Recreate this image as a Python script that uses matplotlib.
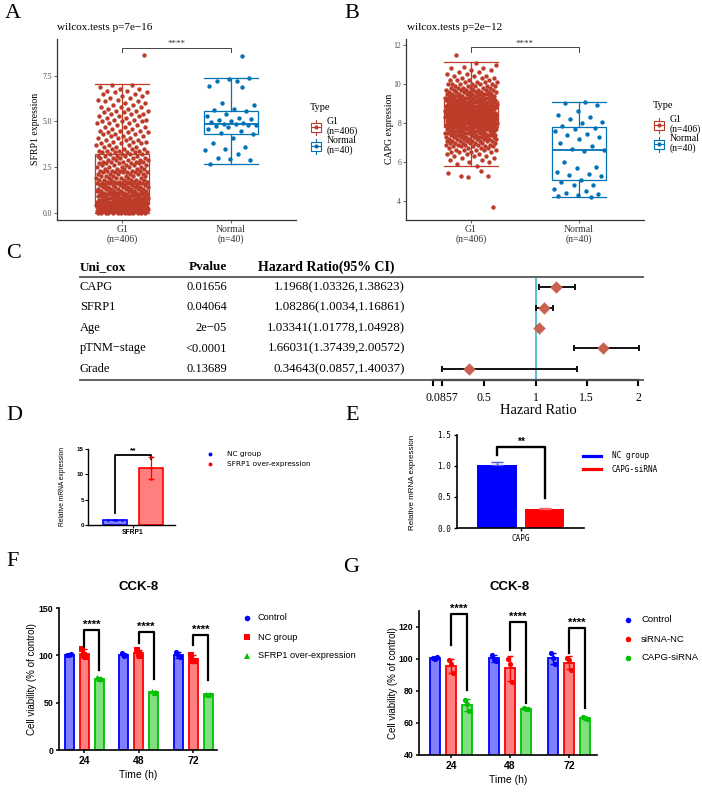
import numpy as np
import matplotlib
matplotlib.use("Agg")
import matplotlib.pyplot as plt
from matplotlib.patches import Rectangle

W, H = 702, 796
SERIF = ["Liberation Serif", "DejaVu Serif"]
SANS = ["Liberation Sans", "DejaVu Sans"]

# ---------------- A / B : expression boxplots ----------------
type_names = ["G1\n(n=406)", "Normal\n(n=40)"]
type_colors = ["#BC3C29", "#0072B5"]

# SFRP1, G1 group: number of samples read at each 0.1 level
sfrp1_g1_levels = np.round(np.arange(0.0, 7.05, 0.1), 1)
sfrp1_g1_counts = [
    14, 20, 22, 22, 20,                                  # 0.0-0.4
    14, 13, 12, 11, 10, 10, 9, 9, 8, 8, 8,               # 0.5-1.5
    7, 7, 7, 6, 6, 6, 6, 6, 5, 5, 5, 5, 5, 5, 5, 5, 4,   # 1.6-3.2
    5, 4, 4, 3, 3, 3, 3, 3,                              # 3.3-4.0
    3, 3, 3, 3, 3, 2, 3, 2, 3, 3,                        # 4.1-5.0
    3, 2, 3, 3, 2, 3, 2, 3, 2, 2,                        # 5.1-6.0
    2, 2, 2, 2, 2, 2, 2, 2, 1, 2]                        # 6.1-7.0
sfrp1_g1_outliers = [8.65]
sfrp1_normal = [7.25, 7.2, 7.4, 7.35, 6.95, 6.9, 6.0, 5.9, 5.7, 5.65,
                5.55, 5.4, 5.3, 5.2, 5.1, 5.15, 5.0, 4.95, 4.9, 4.85,
                4.8, 4.85, 4.75, 4.8, 4.7, 4.6, 4.5, 4.35, 4.3, 4.1,
                3.8, 3.6, 3.5, 3.45, 3.2, 3.0, 2.9, 2.95, 2.65, 8.6]
sfrp1_med = [1.55, 4.85]
sfrp1_q1 = [0.45, 4.3]
sfrp1_q3 = [3.2, 5.6]
sfrp1_lo = [0.0, 2.65]
sfrp1_hi = [7.05, 7.4]

# CAPG, G1 group
capg_g1_levels = np.round(np.arange(5.8, 11.15, 0.1), 1)
capg_g1_counts = [
    1, 1, 2, 2, 2,
    3, 3, 4, 5, 4,
    5, 5, 7, 8, 8,
    9, 10, 10, 10, 11,
    12, 12, 13, 14, 14,
    15, 15, 15, 15, 14,
    14, 13, 12, 12, 11,
    11, 10, 9, 8, 8,
    6, 5, 6, 4, 4,
    3, 3, 2, 2, 2,
    2, 1, 1, 1]
capg_g1_outliers = [11.5, 5.3, 5.25, 5.45, 5.55, 5.3, 3.7]
capg_normal = [9.1, 9.05, 8.95, 8.6, 8.4, 8.3, 8.2, 8.05, 8.0, 7.85,
               7.75, 7.7, 7.6, 7.45, 7.4, 7.3, 7.2, 7.0, 6.8, 6.65,
               6.6, 6.55, 6.0, 5.75, 5.7, 5.5, 5.4, 5.35, 5.3, 5.1,
               5.0, 4.85, 4.8, 4.6, 4.5, 4.4, 4.35, 4.3, 4.25, 4.2]
capg_med = [8.46, 6.6]
capg_q1 = [7.8, 5.07]
capg_q3 = [9.13, 7.8]
capg_lo = [5.8, 4.2]
capg_hi = [11.13, 9.1]

# ---------------- C : univariate cox ----------------
cox_vars = ["CAPG", "SFRP1", "Age", "pTNM\u2212stage", "Grade"]
cox_p = ["0.01656", "0.04064", "2e\u221205", "<0.0001", "0.13689"]
cox_hr = [1.1968, 1.08286, 1.03341, 1.66031, 0.34643]
cox_lo = [1.03326, 1.0034, 1.01778, 1.37439, 0.0857]
cox_hi = [1.38623, 1.16861, 1.04928, 2.00572, 1.40037]

# ---------------- D / E : qPCR ----------------
d_groups = ["NC group", "SFRP1 over-expression"]
d_reps = [[1.0, 1.05, 0.95], [13.4, 11.2, 9.1]]
e_groups = ["NC group", "CAPG-siRNA"]
e_mean = [1.02, 0.30]
e_err = [0.05, 0.03]

# ---------------- F / G : CCK-8 ----------------
times = ["24", "48", "72"]
f_groups = ["Control", "NC group", "SFRP1 over-expression"]
f_control = [[100.5, 100, 101], [102, 99.5, 100], [104, 100, 98]]
f_nc = [[107, 100, 98], [106, 101, 99], [100.5, 94, 94]]
f_sfrp1 = [[77, 75, 74.5], [62, 60.5, 61], [59.5, 58.5, 59]]
f_sig_top = [127, 125, 122]
f_sig_left = [109, 113, 111]
f_sig_right = [85, 75, 74]

g_groups = ["Control", "siRNA-NC", "CAPG-siRNA"]
g_control = [[100.5, 100, 101], [102.5, 100, 98.5], [103.5, 100.5, 97]]
g_sinc = [[99.5, 97, 91], [100, 97, 85.5], [100.5, 99.5, 93]]
g_capg = [[74.5, 72, 67.5], [69.5, 69, 68.5], [63.5, 63, 62.5]]
g_sig_top = [128, 123, 119.5]
g_sig_left = [109, 105.5, 104]
g_sig_right = [80.5, 72.5, 69.5]

bar_fill = ["#8080ff", "#ff8080", "#80e080"]
bar_edge = ["#0000ff", "#ff0000", "#00c000"]

fig = plt.figure(figsize=(W / 100, H / 100), dpi=100)


def px_rect(l, t, r, b):
    return [l / W, 1 - b / H, (r - l) / W, (b - t) / H]


ov = fig.add_axes([0, 0, 1, 1], zorder=10)
ov.set_xlim(0, W)
ov.set_ylim(H, 0)
ov.axis("off")


def expr_panel(rect, g1, normal, med, q1, q3, lo, hi, ylim, yticks, sig):
    ax = fig.add_axes(rect)
    ax.patch.set_visible(False)
    stats = [dict(med=med[i], q1=q1[i], q3=q3[i], whislo=lo[i], whishi=hi[i], fliers=[])
             for i in range(2)]
    bp = ax.bxp(stats, positions=[1, 2], widths=0.5, capwidths=0.5,
                patch_artist=True, showfliers=False)
    for i, c in enumerate(type_colors):
        bp["boxes"][i].set(facecolor="white", edgecolor=c, linewidth=0.9)
        bp["medians"][i].set(color=c, linewidth=1.3)
        for art in bp["whiskers"][2 * i:2 * i + 2] + bp["caps"][2 * i:2 * i + 2]:
            art.set(color=c, linewidth=0.9)
    for i, vals in enumerate([g1, normal]):
        vals = np.asarray(vals, float)
        jit = ((np.arange(len(vals)) + 1) * 0.6180339887) % 1.0 - 0.5
        ax.scatter(i + 1 + jit * 0.48, vals, s=10, color=type_colors[i],
                   linewidths=0, zorder=3)
    ax.plot([1, 1, 2, 2], [sig[0], sig[1], sig[1], sig[0]], color="#444444",
            lw=0.7, clip_on=False)
    ax.text(1.5, sig[2], "****", ha="center", va="center", fontsize=6.5,
            fontfamily=SERIF, color="#333333")
    ax.set_xlim(0.4, 2.6)
    ax.set_ylim(*ylim)
    ax.set_yticks(yticks, [f"{t:g}" for t in yticks],
                  fontsize=5.5, fontfamily=SERIF, color="#4D4D4D")
    ax.set_xticks([1, 2], type_names, fontsize=7, fontfamily=SERIF,
                  color="#333333", linespacing=1.05)
    ax.tick_params(axis="both", colors="#4D4D4D", length=2.5, width=0.6, pad=1)
    ax.tick_params(axis="x", labelcolor="#333333")
    ax.spines[["top", "right"]].set_visible(False)
    for s in ["left", "bottom"]:
        ax.spines[s].set(linewidth=0.9, color="#333333")
    return ax


sfrp1_g1 = np.concatenate([np.repeat(sfrp1_g1_levels, sfrp1_g1_counts), sfrp1_g1_outliers])
capg_g1 = np.concatenate([np.repeat(capg_g1_levels, capg_g1_counts), capg_g1_outliers])

axa = expr_panel(px_rect(57, 39, 296, 220), sfrp1_g1, sfrp1_normal, sfrp1_med,
                 sfrp1_q1, sfrp1_q3, sfrp1_lo, sfrp1_hi, (-0.41, 9.53),
                 [0.0, 2.5, 5.0, 7.5], (8.8, 9.04, 9.26))
axa.set_yticks([0.0, 2.5, 5.0, 7.5], ["0.0", "2.5", "5.0", "7.5"])
axb = expr_panel(px_rect(406, 39, 644, 220), capg_g1, capg_normal, capg_med,
                 capg_q1, capg_q3, capg_lo, capg_hi, (3.03, 12.31),
                 [4, 6, 8, 10, 12], (11.64, 11.9, 12.05))

ov.text(57, 28, "wilcox.tests p=7e\u221216", fontsize=8, fontfamily=SERIF, va="center")
ov.text(407, 28, "wilcox.tests p=2e\u221212", fontsize=8, fontfamily=SERIF, va="center")
ov.text(36, 129, "SFRP1 expression", rotation=90, fontsize=7, fontfamily=SERIF,
        ha="center", va="center")
ov.text(389, 129, "CAPG expression", rotation=90, fontsize=7, fontfamily=SERIF,
        ha="center", va="center")


def type_legend(x, y0):
    ov.text(x - 6, y0, "Type", fontsize=7.5, fontfamily=SERIF, va="center")
    for i, (name, c) in enumerate(zip(type_names, type_colors)):
        yc = y0 + 19 + 19 * i
        ov.add_patch(Rectangle((x - 5, yc - 4.5), 10, 9, fill=False, ec=c, lw=0.8))
        ov.plot([x, x], [yc - 7.5, yc - 4.5], color=c, lw=0.8)
        ov.plot([x, x], [yc + 4.5, yc + 7.5], color=c, lw=0.8)
        ov.plot([x - 5, x + 5], [yc, yc], color=c, lw=0.8)
        ov.plot(x, yc, "o", ms=2, color=c)
        ov.text(x + 11, yc - 0.5, name, fontsize=7, fontfamily=SERIF, va="center",
                linespacing=1.1)


type_legend(316, 108)
type_legend(659, 106)

# ---------------- C ----------------
row_y0, row_dy = 287, 20.5
ov.text(80, 267, "Uni_cox", fontsize=9.5, fontweight="bold", fontfamily=SERIF, va="center")
ov.text(227, 267, "Pvalue", fontsize=9.5, fontweight="bold", fontfamily=SERIF,
        va="center", ha="right")
ov.text(258, 267, "Hazard Ratio(95% CI)", fontsize=10, fontweight="bold",
        fontfamily=SERIF, va="center")
ov.plot([80, 643], [277, 277], color="#555555", lw=1.3)
ov.plot([80, 643], [380, 380], color="#555555", lw=1.3)
for i, name in enumerate(cox_vars):
    y = row_y0 + row_dy * i
    ov.text(80, y, name, fontsize=9, fontfamily=SERIF, va="center")
    ov.text(227, y, cox_p[i], fontsize=9, fontfamily=SERIF, va="center", ha="right")
    ov.text(405, y, f"{cox_hr[i]}({cox_lo[i]},{cox_hi[i]})", fontsize=9.3,
            fontfamily=SERIF, va="center", ha="right")

axf = fig.add_axes(px_rect(433, 277, 643, 380))
axf.patch.set_visible(False)
rows = np.arange(len(cox_vars))
hr = np.array(cox_hr)
axf.axvline(1, color="#56C1D3", lw=1.4, zorder=1)
axf.errorbar(hr, rows, xerr=[hr - np.array(cox_lo), np.array(cox_hi) - hr], fmt="none",
             ecolor="#111111", elinewidth=1.4, capsize=2.5, capthick=1.4, zorder=2)
axf.scatter(hr, rows, marker="D", s=40, color="#C8614F", zorder=3, linewidths=0)
axf.set_xlim(0, (643 - 433) / 102.5)
axf.set_ylim(len(cox_vars) - 1 + 0.54, -0.49)
axf.set_yticks([])
for s in ["top", "right", "left"]:
    axf.spines[s].set_visible(False)
axf.spines["bottom"].set(linewidth=1.6, bounds=(0, 2))
axf.set_xticks([0, 0.0857, 0.5, 1, 1.5, 2], ["", "0.0857", "0.5", "1", "1.5", "2"],
               fontsize=8.5, fontfamily=SERIF)
axf.tick_params(axis="x", length=4, width=1.5, pad=5)
axf.set_xlabel("Hazard Ratio", fontsize=10.5, fontfamily=SERIF, labelpad=0)

# ---------------- D ----------------
axd = fig.add_axes(px_rect(88, 449, 175, 525))
axd.patch.set_visible(False)
d_mean = [np.mean(r) for r in d_reps]
d_sd = [np.std(r, ddof=1) for r in d_reps]
d_fill = ["#8080ff", "#ff7f7f"]
d_edge = ["#0000ff", "#ff0000"]
d_dx = [[-0.2, 0, 0.2], [0, 0, 0]]
for i in range(2):
    axd.bar(i, d_mean[i], width=0.667, color=d_fill[i], edgecolor=d_edge[i], lw=1.2)
    axd.errorbar(i, d_mean[i], yerr=d_sd[i], fmt="none", ecolor=d_edge[i],
                 elinewidth=0.9, capsize=2, capthick=0.9)
    axd.scatter(i + np.array(d_dx[i]), d_reps[i], s=4, color=d_edge[i], zorder=4,
                linewidths=0)
axd.plot([0, 0, 1, 1], [2.4, 13.8, 13.8, 13.0], color="black", lw=1.3, clip_on=False)
axd.text(0.5, 14.6, "**", ha="center", va="center", fontsize=6, fontweight="bold",
         fontfamily=SANS)
axd.set_xlim(-0.75, 1.67)
axd.set_ylim(0, 15)
axd.set_yticks([0, 5, 10, 15], ["0", "5", "10", "15"], fontsize=4.5,
               fontweight="bold", fontfamily=SANS)
axd.set_xticks([0.5], ["SFRP1"], fontsize=4.8, fontweight="bold", fontfamily=SANS)
axd.tick_params(length=2, width=0.8, pad=1)
axd.spines[["top", "right"]].set_visible(False)
for s in ["left", "bottom"]:
    axd.spines[s].set_linewidth(1.0)
ov.text(62, 486, "Relative mRNA expression", rotation=90, fontsize=4.8,
        fontfamily=SANS, ha="center", va="center")
for i, name in enumerate(d_groups):
    ov.plot(210, 454 + 10 * i, "o", ms=1.8, color=d_edge[i])
    ov.text(227, 454 + 10 * i, name, fontsize=5.3, fontfamily=["DejaVu Sans"], va="center")

# ---------------- E ----------------
axe = fig.add_axes(px_rect(457, 435, 584, 528))
axe.patch.set_visible(False)
e_color = ["#0000ff", "#ff0000"]
e_light = ["#5050ff", "#ff6060"]
for i in range(2):
    axe.bar(i, e_mean[i], width=0.84, color=e_color[i], lw=0)
    axe.errorbar(i, e_mean[i], yerr=[[0], [e_err[i]]], fmt="none", ecolor=e_light[i],
                 elinewidth=1.0, capsize=4, capthick=1.0)
axe.plot([0, 0, 1, 1], [1.18, 1.31, 1.31, 0.48], color="black", lw=1.7, clip_on=False)
axe.text(0.5, 1.39, "**", ha="center", va="center", fontsize=7.5, fontweight="bold",
         fontfamily=SANS)
axe.set_xlim(-0.84, 1.83)
axe.set_ylim(0, 1.5)
axe.set_yticks([0, 0.5, 1.0, 1.5], ["0.0", "0.5", "1.0", "1.5"], fontsize=5.5,
               fontfamily=["DejaVu Sans Mono"])
axe.set_xticks([0.5], ["CAPG"], fontsize=5.5, fontfamily=["DejaVu Sans Mono"])
axe.tick_params(length=2.5, width=1.0, pad=1.5)
axe.spines[["top", "right"]].set_visible(False)
for s in ["left", "bottom"]:
    axe.spines[s].set_linewidth(1.2)
ov.text(412, 482, "Relative mRNA expression", rotation=90, fontsize=5.8,
        fontfamily=SANS, ha="center", va="center")
for i, name in enumerate(e_groups):
    ov.plot([583, 601], [456 + 13 * i] * 2, color=e_color[i], lw=2.3)
    ov.text(612, 456 + 13 * i, name, fontsize=5.6, fontfamily=["DejaVu Sans Mono"],
            va="center")


# ---------------- F / G ----------------
def cck_panel(rect, xlim, ylim, yticks, reps, markers, offsets, width,
              sig_top, sig_left, sig_right, ylabel_x):
    ax = fig.add_axes(rect)
    ax.patch.set_visible(False)
    x0 = np.arange(len(times))
    rep_dx = [-0.035, 0.0, 0.035]
    for k in range(3):
        vals = np.asarray(reps[k], float)
        mean = vals.mean(axis=1)
        sd = vals.std(axis=1, ddof=1)
        xs = x0 + offsets[k]
        ax.bar(xs, mean, width=width, color=bar_fill[k], edgecolor=bar_edge[k],
               linewidth=1.3, zorder=2)
        ax.errorbar(xs, mean, yerr=sd, fmt="none", ecolor=bar_edge[k], elinewidth=1.0,
                    capsize=2, capthick=1.0, zorder=3)
        for j in range(vals.shape[1]):
            ax.scatter(xs + rep_dx[j], vals[:, j], marker=markers[k], s=14,
                       color=bar_edge[k], zorder=4, linewidths=0)
    for t in x0:
        xl, xr = t + offsets[1], t + offsets[2]
        ax.plot([xl, xl, xr, xr], [sig_left[t], sig_top[t], sig_top[t], sig_right[t]],
                color="black", lw=1.6, clip_on=False, zorder=5)
        ax.text((xl + xr) / 2, sig_top[t] + (ylim[1] - ylim[0]) * 0.035, "****",
                ha="center", va="center", fontsize=8, fontweight="bold", fontfamily=SANS)
    ax.set_xlim(*xlim)
    ax.set_ylim(*ylim)
    ax.set_yticks(yticks, [str(v) for v in yticks], fontsize=6.3, fontweight="bold",
                  fontfamily=SANS)
    ax.set_xticks(x0, times, fontsize=7.5, fontweight="bold", fontfamily=SANS)
    ax.tick_params(length=2.5, width=1.1, pad=1.5)
    ax.spines[["top", "right"]].set_visible(False)
    for s in ["left", "bottom"]:
        ax.spines[s].set_linewidth(1.2)
    ax.set_xlabel("Time (h)", fontsize=7.5, fontfamily=SANS, labelpad=3)
    ax.set_ylabel("Cell viability (% of control)", fontsize=7, fontfamily=SANS)
    l, b, w, h = rect
    ax.yaxis.set_label_coords((ylabel_x / W - l) / w, 0.5)
    return ax


cck_panel(px_rect(59, 608, 217, 750), (-0.46, 2.44), (0, 150), [0, 50, 100, 150],
          [f_control, f_nc, f_sfrp1], ["o", "s", "^"], [-0.275, 0.0, 0.275], 0.165,
          f_sig_top, f_sig_left, f_sig_right, 37)
cck_panel(px_rect(419, 611, 597, 755), (-0.54, 2.47), (40, 130), [40, 60, 80, 100, 120],
          [g_control, g_sinc, g_capg], ["o", "o", "o"], [-0.27, 0.0, 0.27], 0.17,
          g_sig_top, g_sig_left, g_sig_right, 398)
ov.text(139, 587, "CCK-8", fontsize=9.5, fontweight="bold", fontfamily=SANS,
        ha="center", va="center")
ov.text(510, 587, "CCK-8", fontsize=9.5, fontweight="bold", fontfamily=SANS,
        ha="center", va="center")

f_markers = ["o", "s", "^"]
for i, name in enumerate(f_groups):
    y = 618 + 19 * i
    ov.plot(247, y, f_markers[i], ms=4, color=bar_edge[i], mew=0)
    ov.text(258, y, name, fontsize=6.6, fontfamily=SANS, va="center")
for i, name in enumerate(g_groups):
    y = 620 + 19 * i
    ov.plot(628, y, "o", ms=4, color=bar_edge[i], mew=0)
    ov.text(641, y, name, fontsize=6.8, fontfamily=SANS, va="center")

# panel letters
for letter, x, y in [("A", 13, 14), ("B", 352, 14), ("C", 14, 253), ("D", 14, 415),
                     ("E", 352, 415), ("F", 13, 562), ("G", 351, 567)]:
    ov.text(x, y, letter, fontsize=16, fontfamily=SERIF, ha="center", va="center")

fig.savefig("out.png", dpi=100)
